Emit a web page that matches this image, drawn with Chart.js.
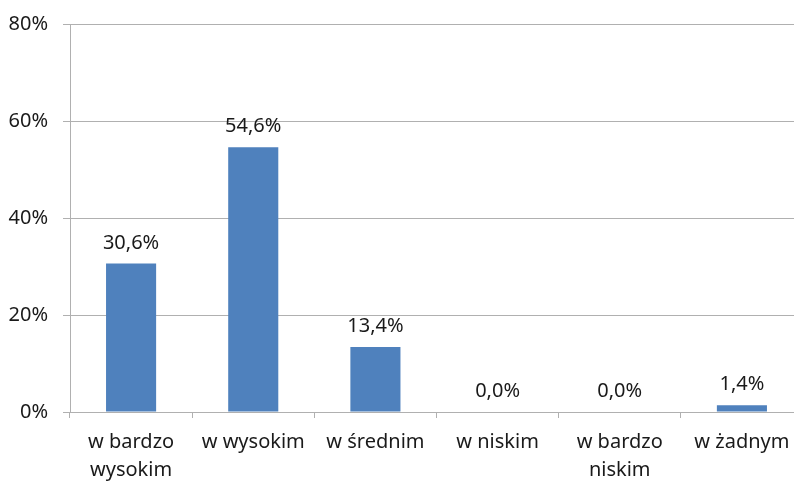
<!DOCTYPE html>
<html>
<head>
<meta charset="utf-8">
<script src="https://cdn.jsdelivr.net/npm/chart.js@4"></script>
<style>
  html, body { margin: 0; padding: 0; background: #fff; overflow: hidden; }
  #wrap { width: 810px; height: 484px; }
</style>
</head>
<body>
<div id="wrap"><canvas id="chart"></canvas></div>
<script>
// data
const categories = [
  ['w bardzo', 'wysokim'],
  'w wysokim',
  'w średnim',
  'w niskim',
  ['w bardzo', 'niskim'],
  'w żadnym'
];
const values = [30.6, 54.6, 13.4, 0.0, 0.0, 1.4];
const yTicks = [0, 20, 40, 60, 80];

const FONT = 'Noto Sans';
const GRID = '#b0b0b0';
const TEXT = '#1a1a1a';

// draws the value over each bar
const valueLabels = {
  id: 'valueLabels',
  afterDatasetsDraw(chart) {
    const ctx = chart.ctx;
    const meta = chart.getDatasetMeta(0);
    ctx.save();
    ctx.font = '20px "' + FONT + '"';
    ctx.fillStyle = TEXT;
    ctx.textAlign = 'center';
    ctx.textBaseline = 'alphabetic';
    meta.data.forEach((bar, i) => {
      const txt = values[i].toFixed(1).replace('.', ',') + '%';
      ctx.fillText(txt, bar.x, bar.y - 15);
    });
    ctx.restore();
  }
};

new Chart(document.getElementById('chart'), {
  type: 'bar',
  data: {
    labels: categories,
    datasets: [{
      data: values,
      backgroundColor: '#4F81BD',
      borderWidth: 0,
      categoryPercentage: 1,
      barPercentage: 0.41
    }]
  },
  options: {
    responsive: true,
    maintainAspectRatio: false,
    animation: false,
    layout: { padding: { top: 24, right: 7, left: 0, bottom: 0 } },
    plugins: { legend: { display: false }, tooltip: { enabled: false } },
    scales: {
      x: {
        afterFit: axis => { axis.height = 72; },
        grid: { offset: true, drawOnChartArea: false, tickLength: 6, color: GRID },
        border: { color: GRID },
        ticks: { color: TEXT, font: { family: FONT, size: 20, lineHeight: 1.4 }, padding: 10, maxRotation: 0 }
      },
      y: {
        min: 0,
        max: 80,
        afterFit: axis => {
          axis.width = 70;
          axis.paddingTop = 0;
          axis.paddingBottom = 0;
        },
        afterBuildTicks: axis => { axis.ticks = yTicks.map(v => ({ value: v })); },
        grid: { color: GRID, tickLength: 7 },
        border: { color: GRID },
        ticks: {
          color: TEXT,
          font: { family: FONT, size: 20 },
          padding: 15,
          callback: v => v + '%'
        }
      }
    }
  },
  plugins: [valueLabels]
});
</script>
</body>
</html>
